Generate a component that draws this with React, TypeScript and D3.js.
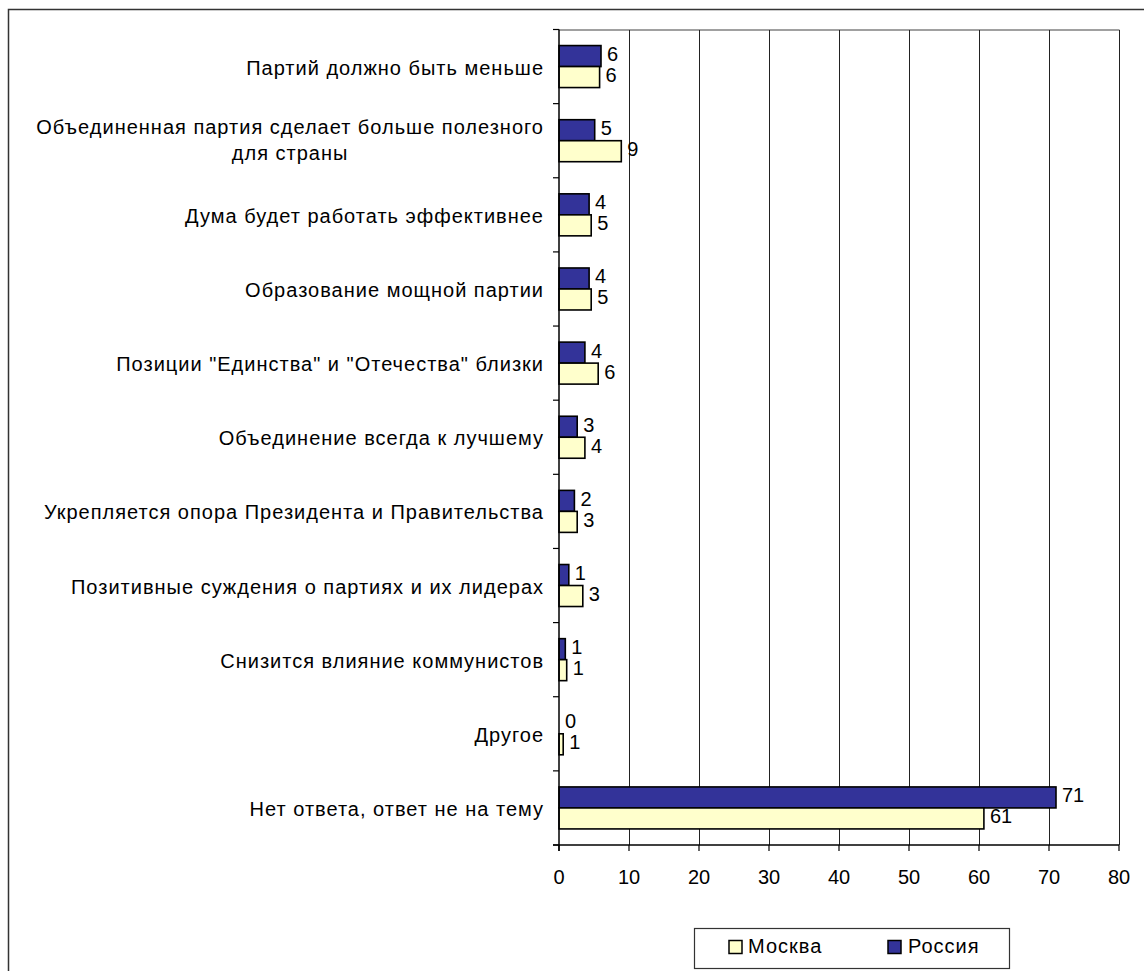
import React, { useEffect, useRef } from "react";
import * as d3 from "d3";

const categories: string[][] = [
  ["Партий должно быть меньше"],
  ["Объединенная партия сделает больше полезного", "для страны"],
  ["Дума будет работать эффективнее"],
  ["Образование мощной партии"],
  ["Позиции \"Единства\" и \"Отечества\" близки"],
  ["Объединение всегда к лучшему"],
  ["Укрепляется опора Президента и Правительства"],
  ["Позитивные суждения о партиях и их лидерах"],
  ["Снизится влияние коммунистов"],
  ["Другое"],
  ["Нет ответа, ответ не на тему"],
];
const russia: number[] = [6.0, 5.1, 4.3, 4.3, 3.7, 2.6, 2.2, 1.4, 0.9, 0, 71.0];
const moscow: number[] = [5.8, 8.9, 4.6, 4.6, 5.6, 3.7, 2.6, 3.4, 1.1, 0.6, 60.7];
const xTicks: number[] = [0, 10, 20, 30, 40, 50, 60, 70, 80];
const seriesNames = ["Москва", "Россия"];

const FONT = "'Liberation Sans', Arial, sans-serif";
const FS = 20;
const LS = 1;
const C_RUS = "#333399";
const C_MOS = "#FFFFCC";

export default function App() {
  const ref = useRef<SVGSVGElement>(null);
  useEffect(() => {
    const svg = d3.select(ref.current);
    svg.selectAll("*").remove();

    const left = 559, right = 1119, top = 29.5, bottom = 845;
    const ids = categories.map((_, i) => String(i));
    const x = d3.scaleLinear().domain([0, 80]).range([left, right]);
    const y = d3.scaleBand().domain(ids).range([top, bottom]);
    const barH = 21;

    // outer frame
    svg.append("rect").attr("x", 8.5).attr("y", 9.5).attr("width", 1200).attr("height", 1100)
      .attr("fill", "white").attr("stroke", "#333").attr("stroke-width", 1.5);

    // plot area border top
    svg.append("line").attr("x1", left).attr("x2", right + 0.5).attr("y1", 30).attr("y2", 30)
      .attr("stroke", "#808080").attr("stroke-width", 1.5);

    // gridlines
    svg.append("g").selectAll("line").data(xTicks.slice(1)).join("line")
      .attr("x1", d => Math.round(x(d)) + 0.5).attr("x2", d => Math.round(x(d)) + 0.5)
      .attr("y1", 30).attr("y2", bottom)
      .attr("stroke", "#222").attr("stroke-width", 1);

    // bars
    const g = svg.append("g");
    categories.forEach((_, i) => {
      const c = (y(String(i)) as number) + y.bandwidth() / 2;
      const bars = [
        { v: russia[i], y0: c - barH, fill: C_RUS },
        { v: moscow[i], y0: c, fill: C_MOS },
      ];
      bars.forEach(b => {
        if (b.v > 0) {
          g.append("rect").attr("x", x(0)).attr("y", b.y0)
            .attr("width", x(b.v) - x(0)).attr("height", barH)
            .attr("fill", b.fill).attr("stroke", "#000").attr("stroke-width", 1.6);
        }
        g.append("text").attr("x", x(b.v) + 6).attr("y", b.y0 + barH / 2 - 2)
          .attr("dominant-baseline", "central")
          .attr("font-family", FONT).attr("font-size", FS).attr("fill", "#000")
          .text(String(Math.round(b.v)));
      });
    });

    // y axis line + ticks
    svg.append("line").attr("x1", left).attr("x2", left).attr("y1", top).attr("y2", bottom + 6)
      .attr("stroke", "#000").attr("stroke-width", 1.5);
    svg.append("g").selectAll("line").data(d3.range(categories.length + 1)).join("line")
      .attr("x1", left - 6).attr("x2", left)
      .attr("y1", d => top + d * y.step()).attr("y2", d => top + d * y.step())
      .attr("stroke", "#000").attr("stroke-width", 1.2);

    // x axis
    svg.append("line").attr("x1", left - 6).attr("x2", right).attr("y1", bottom).attr("y2", bottom)
      .attr("stroke", "#000").attr("stroke-width", 1.5);
    const xt = svg.append("g");
    xt.selectAll("line").data(xTicks).join("line")
      .attr("x1", d => x(d)).attr("x2", d => x(d)).attr("y1", bottom).attr("y2", bottom + 6)
      .attr("stroke", "#000").attr("stroke-width", 1.2);
    xt.selectAll("text").data(xTicks).join("text")
      .attr("x", d => x(d)).attr("y", bottom + 32)
      .attr("text-anchor", "middle").attr("dominant-baseline", "central")
      .attr("font-family", FONT).attr("font-size", FS).text(d => String(d));

    // category labels
    categories.forEach((lines, i) => {
      const c = (y(String(i)) as number) + y.bandwidth() / 2;
      if (lines.length === 1) {
        svg.append("text").attr("x", 544).attr("y", c + 1)
          .attr("text-anchor", "end").attr("dominant-baseline", "central")
          .attr("letter-spacing", LS)
          .attr("font-family", FONT).attr("font-size", FS).text(lines[0]);
      } else {
        const t1 = svg.append("text").attr("x", 544).attr("y", c - 14)
          .attr("text-anchor", "end").attr("dominant-baseline", "central")
          .attr("letter-spacing", LS)
          .attr("font-family", FONT).attr("font-size", FS).text(lines[0]);
        const w = (t1.node() as SVGTextElement).getComputedTextLength();
        const mid = 544 - w / 2;
        lines.slice(1).forEach((ln, k) => {
          svg.append("text").attr("x", mid).attr("y", c + 12 + k * 26)
            .attr("text-anchor", "middle").attr("dominant-baseline", "central")
            .attr("letter-spacing", LS)
            .attr("font-family", FONT).attr("font-size", FS).text(ln);
        });
      }
    });

    // legend
    const lg = svg.append("g");
    lg.append("rect").attr("x", 694.5).attr("y", 928.5).attr("width", 315).attr("height", 40)
      .attr("fill", "white").attr("stroke", "#333").attr("stroke-width", 1.2);
    const items = [
      { name: seriesNames[0], fill: C_MOS, sx: 729, tx: 748 },
      { name: seriesNames[1], fill: C_RUS, sx: 888, tx: 908 },
    ];
    items.forEach(it => {
      lg.append("rect").attr("x", it.sx).attr("y", 940.5).attr("width", 13).attr("height", 13)
        .attr("fill", it.fill).attr("stroke", "#000").attr("stroke-width", 1.5);
      lg.append("text").attr("x", it.tx).attr("y", 946).attr("dominant-baseline", "central")
        .attr("letter-spacing", LS)
        .attr("font-family", FONT).attr("font-size", FS).text(it.name);
    });
  }, []);

  return (
    <svg ref={ref} width={1144} height={971}
      style={{ position: "absolute", left: 0, top: 0, display: "block", background: "white" }} />
  );
}
